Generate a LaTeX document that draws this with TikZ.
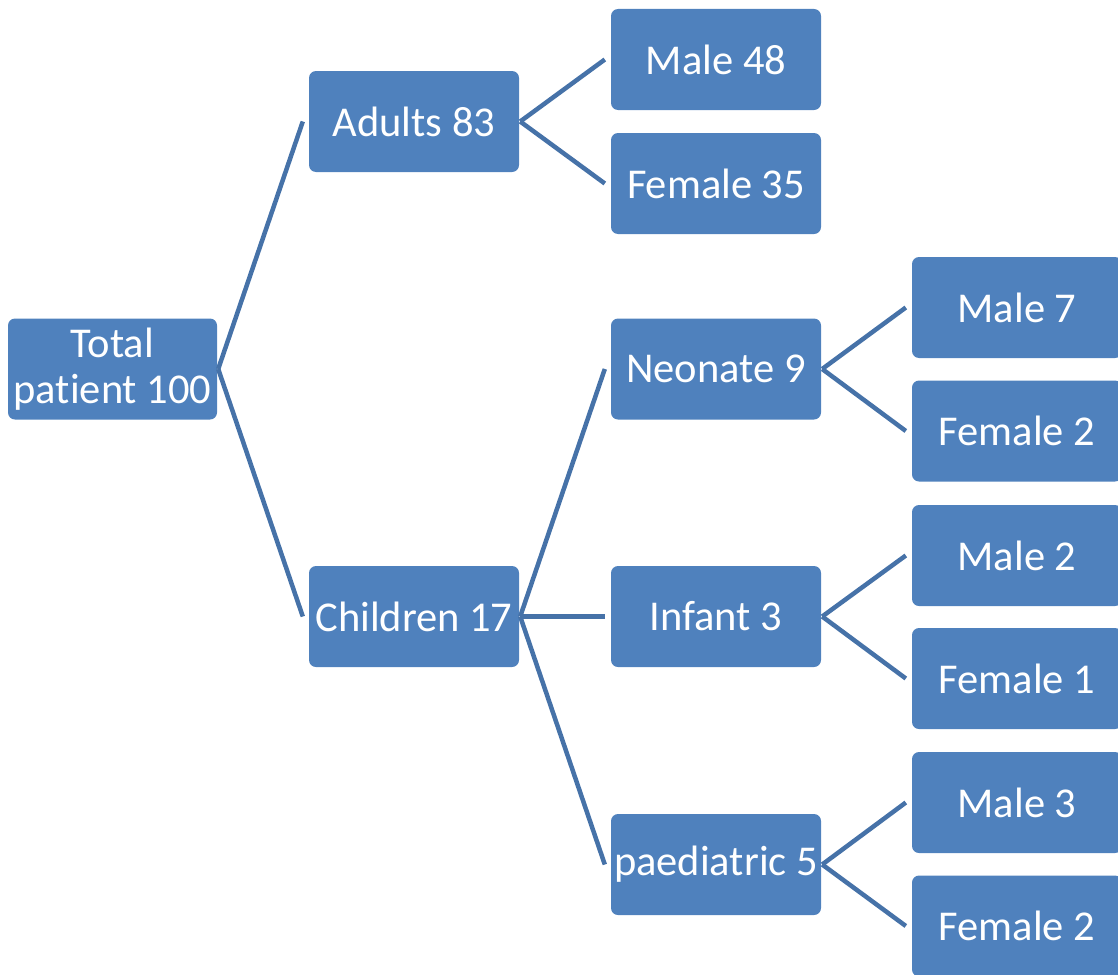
\documentclass[tikz,border=0pt]{standalone}
\usepackage{fontspec}
\setmainfont[Ligatures=NoCommon]{Carlito}
\definecolor{boxfill}{RGB}{79,129,189}
\definecolor{linkcol}{RGB}{70,114,168}
\begin{document}
\begin{tikzpicture}[x=1pt,y=-1pt,
  box/.style={rectangle, rounded corners=7pt, fill=boxfill, text=white,
    minimum width=210pt, minimum height=101pt, inner sep=0pt,
    align=center, font=\fontsize{42.5}{46}\selectfont},
  link/.style={draw=linkcol, line width=4.5pt}]
\useasboundingbox (0,0) rectangle (1118,974);
\begin{scope}
\clip (0,0) rectangle (1118,974);
% root
\node[box, minimum width=209pt] (total) at (112.5,369) {Total\\patient 100};
% level 1
\node[box] (adults) at (414,121.5) {Adults 83};
\node[box] (children) at (414,616.5) {Children 17};
% level 2
\node[box] (male48) at (716,59.5) {Male 48};
\node[box] (female35) at (716,183.5) {Female 35};
\node[box] (neonate) at (716,369) {Neonate 9};
\node[box] (infant) at (716,616.5) {Infant 3};
\node[box] (paed) at (716,864.5) {paediatric 5};
% level 3
\node[box] (m7) at (1017,307.5) {Male 7};
\node[box] (f2a) at (1017,431) {Female 2};
\node[box] (m2) at (1017,555.5) {Male 2};
\node[box] (f1) at (1017,678.5) {Female 1};
\node[box] (m3) at (1017,802.5) {Male 3};
\node[box] (f2b) at (1017,926) {Female 2};
% connectors
\foreach \p/\c in {total/adults, total/children, adults/male48, adults/female35,
  children/neonate, children/infant, children/paed,
  neonate/m7, neonate/f2a, infant/m2, infant/f1, paed/m3, paed/f2b}
  \draw[link] ([xshift=1pt]\p.east) -- ([xshift=-6pt]\c.west);
\end{scope}
\end{tikzpicture}
\end{document}
